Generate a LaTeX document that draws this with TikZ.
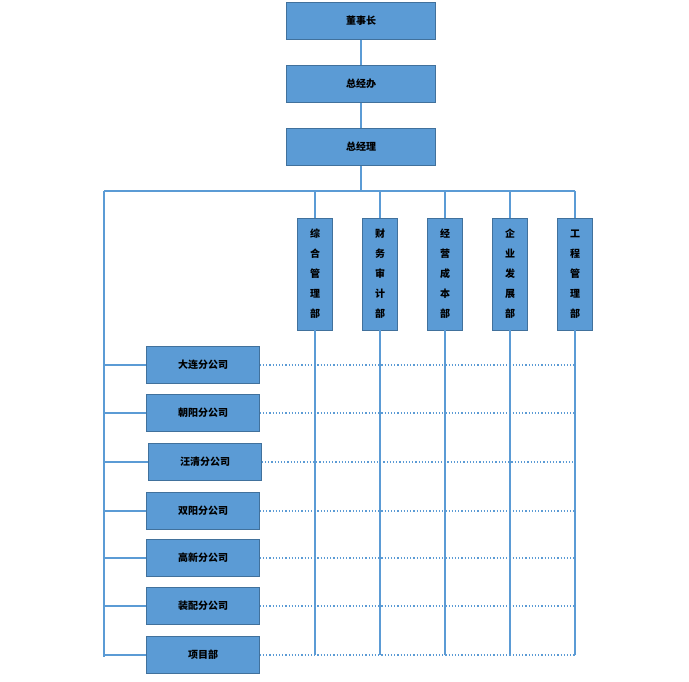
\documentclass[tikz,border=0pt]{standalone}
\usepackage{fontspec}
\setmainfont{Noto Sans CJK SC}
\usetikzlibrary{positioning}
\definecolor{boxfill}{HTML}{5B9BD5}
\definecolor{boxline}{HTML}{41719C}
\tikzset{
  unitbox/.style={draw=boxline, fill=boxfill, minimum width=149pt, minimum height=37pt, inner sep=0pt, font=\bfseries\fontsize{10}{12}\selectfont},
  deptbox/.style={draw=boxline, fill=boxfill, minimum width=35pt, minimum height=112pt, inner sep=0pt, align=center, font=\bfseries\fontsize{10}{20}\selectfont},
  branchbox/.style={draw=boxline, fill=boxfill, minimum width=113pt, minimum height=37pt, inner sep=0pt, font=\bfseries\fontsize{10}{12}\selectfont},
  link/.style={draw=boxfill, line width=1.2pt},
  dotlink/.style={draw=boxfill, line width=1.2pt, dotted}
}
\begin{document}
\begin{tikzpicture}[x=1pt, y=-1pt]

	% ---- frame

	\useasboundingbox (0,0) rectangle (689,682);

	% ---- top boxes

	\node[unitbox] (chair) at (361,21) {董事长};
	\node[unitbox] (office) at (361,84) {总经办};
	\node[unitbox] (gm) at (361,147) {总经理};
	\draw[link] (chair) -- (office);
	\draw[link] (office) -- (gm);

	% ---- bus

	\coordinate (busL) at (104,191);
	\coordinate (busR) at (575,191);
	\coordinate (busB) at (104,657);
	\draw[link] (gm) -- (361,191);
	\draw[link] (busL) -- (busR);
	\draw[link] (busL) -- (busB);

	% ---- departments

	\foreach \name/\x/\txt in {d1/315/综\\合\\管\\理\\部, d2/380/财\\务\\审\\计\\部, d3/445/经\\营\\成\\本\\部, d4/510/企\\业\\发\\展\\部, d5/575/工\\程\\管\\理\\部} {
		\node[deptbox] (\name) at (\x,274) {\txt};
		\coordinate (\name top) at (\x,191);
		\coordinate (\name bot) at (\x,655);
		\draw[link] (\name top) -- (\name);
		\draw[link] (\name) -- (\name bot);
	}

	% ---- branches

	\foreach \name/\x/\y/\txt in {b1/203/365/大连分公司, b2/203/413/朝阳分公司, b3/205/462/汪清分公司, b4/203/511/双阳分公司, b5/203/558/高新分公司, b6/203/606/装配分公司, b7/203/655/项目部} {
		\node[branchbox] (\name) at (\x,\y) {\txt};
		\coordinate (\name L) at (104,\y);
		\coordinate (\name R) at (575,\y);
		\draw[link] (\name L) -- (\name);
		\draw[dotlink] (\name) -- (\name R);
	}

\end{tikzpicture}
\end{document}
